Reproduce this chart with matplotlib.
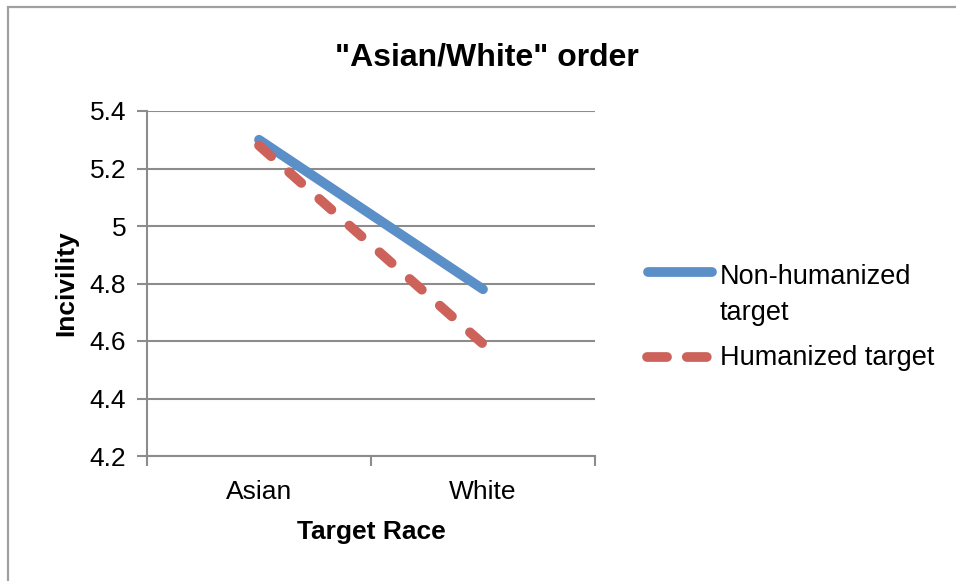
import matplotlib
matplotlib.use("Agg")
import matplotlib.pyplot as plt
from matplotlib.patches import Rectangle
from matplotlib.lines import Line2D

plt.rcParams['font.family'] = ['Liberation Sans', 'DejaVu Sans']

categories = ["Asian", "White"]
non_humanized = [5.30, 4.78]
humanized = [5.28, 4.59]
y_ticks = [4.2, 4.4, 4.6, 4.8, 5.0, 5.2, 5.4]
y_tick_labels = ["4.2", "4.4", "4.6", "4.8", "5", "5.2", "5.4"]
series_names = ["Non-humanized\ntarget", "Humanized target"]

blue = "#5A8FC8"
red = "#CC6259"
grid_gray = "#8C8C8C"
line_w = 7
dash_pat = (1.67, 2.47)

W, H = 956, 581
fig = plt.figure(figsize=(W / 100, H / 100), dpi=100)
fig.patch.set_facecolor("white")

# outer chart border
fig.add_artist(Rectangle((7.5 / W, -0.05), 1.2, 1 - 7.5 / H + 0.05,
                         transform=fig.transFigure, fill=False,
                         edgecolor="#A0A0A0", linewidth=1.6))

left, right, top, bottom = 147, 595, 111, 456
ax = fig.add_axes([left / W, 1 - bottom / H, (right - left) / W, (bottom - top) / H])

x = [0.5, 1.5]
ax.plot(x, non_humanized, color=blue, lw=line_w, solid_capstyle="round", zorder=3)
ax.plot(x, humanized, color=red, lw=line_w, dash_capstyle="round",
        dashes=dash_pat, zorder=4)

ax.set_xlim(0, 2)
ax.set_ylim(4.2, 5.4)
ax.set_yticks(y_ticks)
ax.set_yticklabels(y_tick_labels)
ax.yaxis.grid(True, color=grid_gray, lw=1.5)
ax.set_axisbelow(True)

ax.set_xticks([0, 1, 2])
ax.set_xticklabels(["", "", ""])
ax.set_xticks(x, minor=True)
ax.set_xticklabels(categories, minor=True)
ax.tick_params(axis="x", which="minor", length=0, labelsize=19, pad=17)
ax.tick_params(axis="x", which="major", length=7, width=1.5, color=grid_gray)
ax.tick_params(axis="y", length=7, width=1.5, color=grid_gray, labelsize=19, pad=8)

for s in ["top", "right"]:
    ax.spines[s].set_visible(False)
for s in ["left", "bottom"]:
    ax.spines[s].set_color(grid_gray)
    ax.spines[s].set_linewidth(1.5)

ax.set_xlabel("Target Race", fontsize=19, fontweight="bold", labelpad=12)
ax.set_ylabel("Incivility", fontsize=19, fontweight="bold", labelpad=8)

fig.text(487 / W, 1 - 57 / H, '"Asian/White" order', fontsize=23,
         fontweight="bold", ha="center", va="center")

# legend drawn in figure pixel coordinates
def fy(py):
    return 1 - py / H

fig.add_artist(Line2D([648 / W, 712 / W], [fy(272), fy(272)], color=blue,
                      lw=line_w, solid_capstyle="round", transform=fig.transFigure))
fig.add_artist(Line2D([647 / W, 707 / W], [fy(357), fy(357)], color=red,
                      lw=line_w, dash_capstyle="round", dashes=(2.06, 2.03),
                      transform=fig.transFigure))
fig.text(720 / W, fy(264), series_names[0], fontsize=19.5, ha="left", va="top",
         linespacing=1.5)
fig.text(720 / W, fy(358), series_names[1], fontsize=19.5, ha="left", va="center")

fig.savefig("out.png", dpi=100)
